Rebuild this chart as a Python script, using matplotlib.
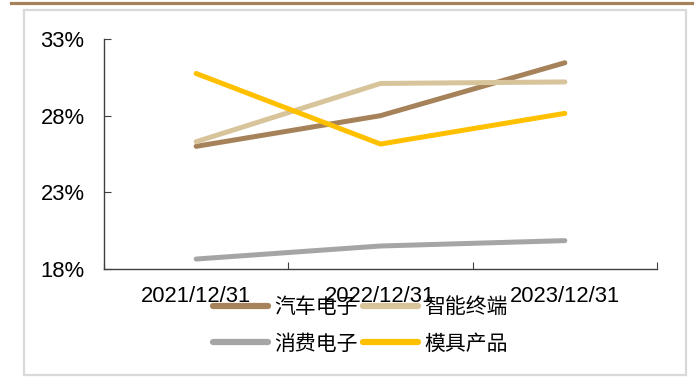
import matplotlib
matplotlib.use("Agg")
import matplotlib.pyplot as plt
from matplotlib.patches import Rectangle
from matplotlib.lines import Line2D
from matplotlib.ticker import FuncFormatter

categories = ["2021/12/31", "2022/12/31", "2023/12/31"]
series_names = ["汽车电子", "智能终端", "消费电子", "模具产品"]
auto_elec = [26.0, 28.0, 31.45]
smart_term = [26.3, 30.1, 30.2]
consumer_elec = [18.65, 19.5, 19.85]
mold_prod = [30.75, 26.15, 28.15]
y_ticks = [18, 23, 28, 33]
colors = ["#A6825A", "#D8C49A", "#A5A5A5", "#FFC000"]

plt.rcParams['font.family'] = ['Liberation Sans', 'DejaVu Sans']

fig = plt.figure(figsize=(6.96, 3.80), dpi=100)
W, H = 696, 380

# decorative frame and top rule
fig.add_artist(Line2D([11 / W, 692 / W], [1 - 2.5 / H, 1 - 2.5 / H], color="#A6825A", lw=2.3,
                      transform=fig.transFigure))
fig.add_artist(Rectangle((24 / W, 1 - 375 / H), (686 - 24) / W, (375 - 10) / H,
                         transform=fig.transFigure, fill=False, edgecolor="#D9D9D9", lw=1.6))

ax = fig.add_axes([104 / W, 1 - 269 / H, (657 - 104) / W, (269 - 39) / H])
x = list(range(len(categories)))
all_series = [auto_elec, smart_term, consumer_elec, mold_prod]
handles = []
for vals, name, c in zip(all_series, series_names, colors):
    h, = ax.plot(x, vals, color=c, lw=3.6, solid_capstyle='round', label=name)
    handles.append(h)

ax.set_xlim(-0.5, len(categories) - 0.5)
ax.set_ylim(18, 33)
ax.set_yticks(y_ticks)
ax.yaxis.set_major_formatter(FuncFormatter(lambda v, p: f"{v:.0f}%"))
ax.set_xticks([i - 0.5 for i in range(len(categories) + 1)])
ax.set_xticklabels([])
ax.set_xticks(x, minor=True)
ax.set_xticklabels(categories, minor=True)
ax.tick_params(axis='x', which='major', direction='in', length=5, color='#404040')
ax.tick_params(axis='x', which='minor', length=0, pad=12.5, labelsize=15.8)
ax.tick_params(axis='y', direction='in', length=5, pad=14, labelsize=15.8, color='#404040')
for s in ['top', 'right']:
    ax.spines[s].set_visible(False)
for s in ['left', 'bottom']:
    ax.spines[s].set_color('#404040')
    ax.spines[s].set_linewidth(1.0)

# legend filled row-wise as in the reference (matplotlib fills column-wise)
order = [0, 2, 1, 3]
leg = fig.legend([handles[i] for i in order], [series_names[i] for i in order],
                 loc='upper left', bbox_to_anchor=(213 / W, 1 - 296 / H), ncol=2,
                 frameon=False, borderpad=0, borderaxespad=0,
                 handlelength=2.65, handletextpad=0.3, columnspacing=0.25,
                 labelspacing=0.7, prop={'family': ['Noto Sans CJK SC'], 'size': 15})
for line in leg.get_lines():
    line.set_linewidth(4.5)

fig.savefig("out.png", dpi=100)
